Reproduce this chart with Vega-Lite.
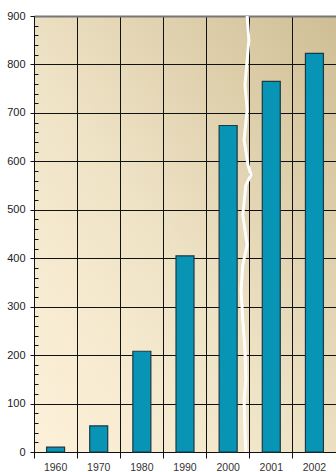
{
  "$schema": "https://vega.github.io/schema/vega-lite/v6.json",
  "width": 302,
  "height": 436,
  "padding": {"left": 34, "top": 16, "right": 0, "bottom": 20},
  "autosize": {"type": "none"},
  "background": "white",
  "config": {
    "view": {
      "stroke": null,
      "fill": {
        "gradient": "linear",
        "x1": 0, "y1": 1, "x2": 1, "y2": 0,
        "stops": [
          {"offset": 0, "color": "#fdf1da"},
          {"offset": 0.45, "color": "#efe3c6"},
          {"offset": 1, "color": "#cfbe94"}
        ]
      }
    },
    "axis": {"labelFont": "Liberation Sans", "titleFont": "Liberation Sans"}
  },
  "datasets": {
    "bars": [
      {"year": "1960", "value": 10},
      {"year": "1970", "value": 54},
      {"year": "1980", "value": 208},
      {"year": "1990", "value": 405},
      {"year": "2000", "value": 674},
      {"year": "2001", "value": 765},
      {"year": "2002", "value": 823}
    ],
    "brk": [
      {"pos": 4.94, "value": 900},
      {"pos": 4.98, "value": 850},
      {"pos": 4.94, "value": 809},
      {"pos": 4.89, "value": 758},
      {"pos": 4.94, "value": 706},
      {"pos": 4.87, "value": 644},
      {"pos": 4.96, "value": 592},
      {"pos": 5.03, "value": 572},
      {"pos": 4.91, "value": 551},
      {"pos": 4.84, "value": 489},
      {"pos": 4.94, "value": 427},
      {"pos": 4.84, "value": 386},
      {"pos": 4.80, "value": 334},
      {"pos": 4.84, "value": 272},
      {"pos": 4.89, "value": 211},
      {"pos": 4.91, "value": 149},
      {"pos": 4.87, "value": 107},
      {"pos": 4.89, "value": 45},
      {"pos": 4.91, "value": 0}
    ]
  },
  "layer": [
    {
      "data": {"name": "bars"},
      "mark": {"type": "bar", "fill": "#0894b4", "stroke": "#1c3a44", "strokeWidth": 1.2, "width": 18},
      "encoding": {
        "x": {
          "field": "year", "type": "nominal", "sort": null,
          "scale": {"paddingInner": 0, "paddingOuter": 0},
          "axis": {
            "title": null, "labelAngle": 0, "bandPosition": 0,
            "grid": true, "gridColor": "#111", "gridWidth": 1,
            "domainColor": "#111", "tickColor": "#111", "tickSize": 6,
            "labelFontSize": 10.5, "labelColor": "#333", "labelPadding": 4
          }
        },
        "y": {
          "field": "value", "type": "quantitative",
          "scale": {"domain": [0, 900], "nice": false},
          "axis": {
            "title": null, "values": [0, 100, 200, 300, 400, 500, 600, 700, 800, 900],
            "grid": true,
            "gridColor": {"condition": {"test": "datum.value === 900", "value": "#777"}, "value": "#111"},
            "gridWidth": {"condition": {"test": "datum.value === 900", "value": 2}, "value": 1},
            "domainColor": "#111", "tickColor": "#111", "tickSize": 4,
            "labelFontSize": 11, "labelColor": "#222", "labelPadding": 5
          }
        }
      }
    },
    {
      "data": {"name": "brk"},
      "mark": {"type": "line", "stroke": "white", "strokeWidth": 3, "clip": true},
      "encoding": {
        "x": {"field": "pos", "type": "quantitative", "scale": {"domain": [0, 7], "nice": false, "zero": false}, "axis": null},
        "y": {
          "field": "value", "type": "quantitative",
          "axis": {
            "orient": "right", "offset": -302, "title": null, "labels": false, "domain": false, "grid": false,
            "values": [20, 40, 60, 80, 120, 140, 160, 180, 220, 240, 260, 280, 320, 340, 360, 380, 420, 440, 460, 480, 520, 540, 560, 580, 620, 640, 660, 680, 720, 740, 760, 780, 820, 840, 860, 880],
            "tickSize": 4, "tickColor": "#111"
          }
        },
        "order": {"field": "value", "type": "quantitative"}
      }
    }
  ],
  "resolve": {"scale": {"x": "independent"}, "axis": {"y": "independent", "x": "independent"}}
}
